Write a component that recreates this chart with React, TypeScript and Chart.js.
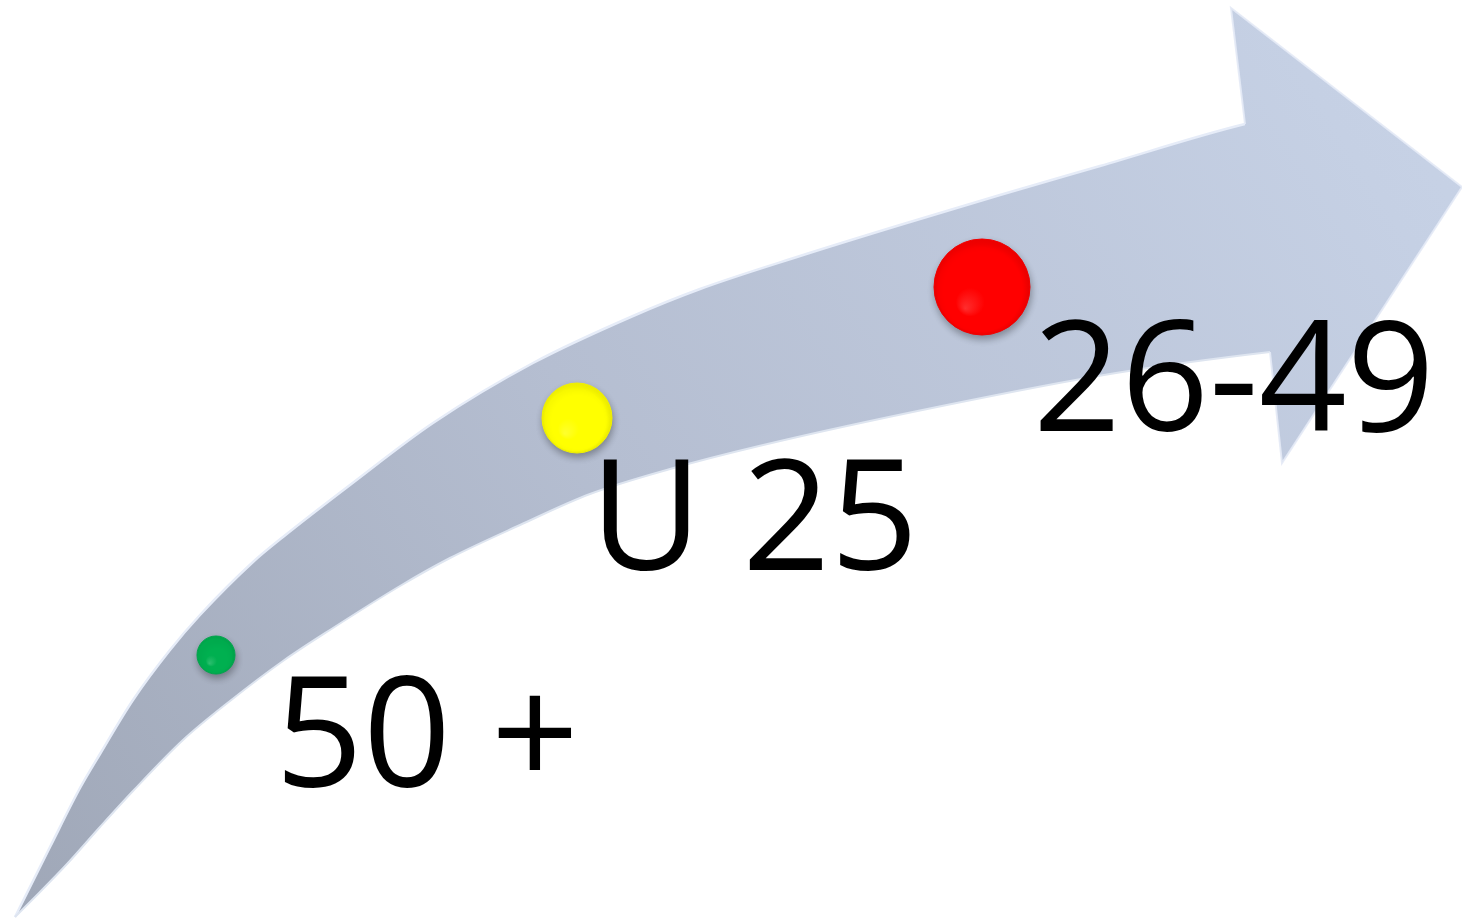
import { useEffect, useRef } from 'react';
import { Chart, registerables } from 'chart.js';

Chart.register(...registerables);

// Arrow outline (upper and lower edges of the curved shaft, then the head)
const upperEdgeX = [15, 50, 80, 100, 133, 170, 200, 253, 283, 350, 433, 533, 633, 700, 800, 900, 1000, 1100, 1245, 1280];
const upperEdgeY = [917, 847, 788, 754, 700, 650, 615, 562, 537, 485, 423, 363, 316, 289, 256, 225, 195, 166, 124, 117];
const lowerEdgeX = [15, 33, 67, 100, 133, 183, 230, 283, 333, 400, 450, 520, 590, 670, 759, 937, 1116, 1270, 1290];
const lowerEdgeY = [917, 899, 864, 827, 791, 740, 701, 661, 628, 586, 558, 525, 494, 469, 446, 407, 373, 352, 350];
const headX = [1245, 1231, 1462, 1282, 1270, 1245];
const headY = [124, 8, 187, 463, 352, 124];

// Bubbles
const groups = ['50 +', 'U 25', '26-49'];
const bubbleX = [216, 577, 982];
const bubbleY = [655, 418, 287];
const bubbleR = [19, 35, 48];
const bubbleColors = ['#00b050', '#ffff00', '#ff0000'];

// Label anchors (ink left, baseline)
const labelX = [284, 603, 1040];
const labelY = [787, 570, 431];

const W = 1462;
const H = 920;

function arrowFill(c: any) {
  const chart = c.chart;
  const a = chart.chartArea;
  if (!a) return '#b5bed1';
  const g = chart.ctx.createLinearGradient(a.left, a.bottom, a.right, a.top);
  g.addColorStop(0, '#9fa7b7');
  g.addColorStop(0.44, '#b5bed1');
  g.addColorStop(0.9, '#c5d0e4');
  g.addColorStop(1, '#c8d3e7');
  return g;
}

function shade(hex: string, f: number) {
  const n = parseInt(hex.slice(1), 16);
  let r = (n >> 16) & 255, g = (n >> 8) & 255, b = n & 255;
  if (f >= 0) {
    r = Math.round(r + (255 - r) * f); g = Math.round(g + (255 - g) * f); b = Math.round(b + (255 - b) * f);
  } else {
    r = Math.round(r * (1 + f)); g = Math.round(g * (1 + f)); b = Math.round(b * (1 + f));
  }
  return `rgb(${r},${g},${b})`;
}

function bubbleFill(c: any) {
  const chart = c.chart;
  const i = c.dataIndex;
  const base = bubbleColors[i] || '#888';
  if (c.type !== 'data' || !chart.chartArea) return base;
  const raw = c.raw;
  const px = chart.scales.x.getPixelForValue(raw.x);
  const py = chart.scales.y.getPixelForValue(raw.y);
  const r = raw.r;
  const g = chart.ctx.createRadialGradient(px - r * 0.35, py + r * 0.45, 0, px, py, r);
  g.addColorStop(0, shade(base, 0.18));
  g.addColorStop(0.3, base);
  g.addColorStop(0.88, base);
  g.addColorStop(1, shade(base, -0.06));
  return g;
}

const shadowPlugin = {
  id: 'bubbleShadow',
  beforeDatasetDraw(chart: any, args: any) {
    if (args.index !== 0) return;
    const ctx = chart.ctx;
    ctx.save();
    ctx.shadowColor = 'rgba(0,0,0,0.3)';
    ctx.shadowBlur = 7;
    ctx.shadowOffsetX = 1;
    ctx.shadowOffsetY = 4;
  },
  afterDatasetDraw(chart: any, args: any) {
    if (args.index !== 0) return;
    chart.ctx.restore();
  },
};

const labelPlugin = {
  id: 'groupLabels',
  afterDatasetsDraw(chart: any) {
    const { ctx, scales } = chart;
    ctx.save();
    ctx.font = '154px "Open Sans"';
    ctx.fillStyle = '#000';
    ctx.textAlign = 'left';
    ctx.textBaseline = 'alphabetic';
    groups.forEach((t, i) => {
      const m = ctx.measureText(t);
      const px = scales.x.getPixelForValue(labelX[i]) + (m.actualBoundingBoxLeft || 0);
      const py = scales.y.getPixelForValue(labelY[i]);
      ctx.fillText(t, px, py);
    });
    ctx.restore();
  },
};

export default function App() {
  const ref = useRef<HTMLCanvasElement | null>(null);
  useEffect(() => {
    document.body.style.margin = '0';
    if (!ref.current) return;
    const upper = upperEdgeX.map((x, i) => ({ x, y: upperEdgeY[i] }));
    const lower = lowerEdgeX.map((x, i) => ({ x, y: lowerEdgeY[i] }));
    const head = headX.map((x, i) => ({ x, y: headY[i] }));
    const bubbles = bubbleX.map((x, i) => ({ x, y: bubbleY[i], r: bubbleR[i] }));
    let alive = true;
    const chart = new Chart(ref.current, {
      type: 'line',
      data: {
        datasets: [
          {
            type: 'bubble',
            label: 'groups',
            data: bubbles,
            backgroundColor: bubbleFill,
            borderColor: bubbleColors.map((c) => shade(c, -0.05)),
            borderWidth: 1,
            order: 1,
            clip: false,
          } as any,
          {
            type: 'line',
            label: 'head',
            data: head,
            backgroundColor: arrowFill,
            borderColor: 'rgba(228,234,246,0.9)',
            borderWidth: 2,
            fill: 'shape',
            tension: 0,
            pointRadius: 0,
            order: 2,
            segment: {
              borderColor: (s: any) => (s.p0DataIndex === 4 ? 'rgba(0,0,0,0)' : undefined),
            },
          } as any,
          {
            type: 'line',
            label: 'upper',
            data: upper,
            backgroundColor: arrowFill,
            borderColor: 'rgba(230,236,248,1)',
            borderWidth: 2.5,
            fill: '+1',
            cubicInterpolationMode: 'monotone',
            pointRadius: 0,
            order: 4,
          } as any,
          {
            type: 'line',
            label: 'lower',
            data: lower,
            backgroundColor: arrowFill,
            borderColor: 'rgba(222,229,240,1)',
            borderWidth: 2,
            fill: false,
            cubicInterpolationMode: 'monotone',
            pointRadius: 0,
            order: 3,
          } as any,
        ],
      },
      options: {
        responsive: true,
        maintainAspectRatio: false,
        animation: false,
        layout: { padding: 0, autoPadding: false },
        plugins: {
          legend: { display: false },
          tooltip: { enabled: false },
        },
        events: [],
        scales: {
          x: { type: 'linear', min: 0, max: W, display: false },
          y: { type: 'linear', min: 0, max: H, reverse: true, display: false },
        },
      } as any,
      plugins: [shadowPlugin, labelPlugin],
    });
    if ((document as any).fonts && (document as any).fonts.load) {
      (document as any).fonts.load('154px "Open Sans"').then(() => {
        if (alive) chart.update();
      }).catch(() => {});
    }
    return () => {
      alive = false;
      chart.destroy();
    };
  }, []);
  return (
    <div style={{ position: 'fixed', left: 0, top: 0, width: W, height: H, background: '#fff' }}>
      <canvas ref={ref} />
    </div>
  );
}
